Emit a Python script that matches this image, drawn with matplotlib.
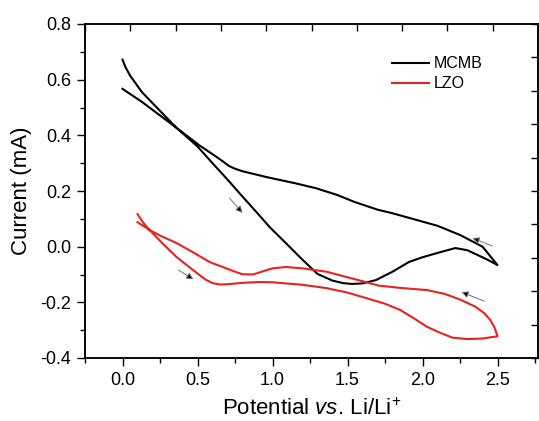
import matplotlib
matplotlib.use("Agg")
import matplotlib.pyplot as plt
from matplotlib.ticker import MultipleLocator

plt.rcParams['font.family'] = ['Liberation Sans', 'DejaVu Sans']
plt.rcParams['mathtext.fontset'] = 'custom'
plt.rcParams['mathtext.rm'] = 'Liberation Sans'
plt.rcParams['mathtext.it'] = 'Liberation Sans:italic'

# MCMB cycle: cathodic sweep (0 -> 2.5 V) and return sweep (2.5 -> 0 V)
mcmb_fwd_v = [0.0, 0.02, 0.05, 0.09, 0.13, 0.25, 0.36, 0.5, 0.6, 0.7, 0.8, 0.9, 0.98, 1.1,
              1.2, 1.3, 1.4, 1.47, 1.53, 1.6, 1.69, 1.8, 1.91, 2.0, 2.13, 2.22, 2.3, 2.36,
              2.43, 2.5]
mcmb_fwd_i = [0.672, 0.645, 0.615, 0.585, 0.555, 0.488, 0.427, 0.36, 0.30, 0.241, 0.18, 0.12,
              0.071, 0.007, -0.047, -0.098, -0.122, -0.131, -0.134, -0.132, -0.12, -0.09,
              -0.055, -0.038, -0.018, -0.005, -0.013, -0.028, -0.046, -0.066]
mcmb_rev_v = [2.5, 2.4, 2.25, 2.1, 1.96, 1.8, 1.7, 1.55, 1.43, 1.29, 1.15, 0.96, 0.8, 0.75,
              0.71, 0.66, 0.62, 0.51, 0.36, 0.13, 0.0]
mcmb_rev_i = [-0.066, 0.0, 0.042, 0.075, 0.096, 0.12, 0.133, 0.16, 0.186, 0.21, 0.228, 0.25,
              0.271, 0.28, 0.29, 0.31, 0.325, 0.365, 0.427, 0.52, 0.567]

# LZO cycle
lzo_fwd_v = [0.1, 0.14, 0.18, 0.27, 0.36, 0.47, 0.55, 0.6, 0.65, 0.7, 0.8, 0.91, 1.0, 1.2,
             1.36, 1.5, 1.62, 1.75, 1.85, 1.95, 2.03, 2.12, 2.2, 2.3, 2.4, 2.5]
lzo_fwd_i = [0.117, 0.085, 0.06, 0.01, -0.037, -0.084, -0.117, -0.131, -0.136, -0.135,
             -0.13, -0.127, -0.128, -0.137, -0.149, -0.165, -0.184, -0.205, -0.227, -0.26,
             -0.288, -0.31, -0.327, -0.332, -0.33, -0.322]
lzo_rev_v = [2.5, 2.48, 2.45, 2.41, 2.35, 2.25, 2.15, 2.03, 1.85, 1.71, 1.66, 1.62, 1.5, 1.36,
             1.2, 1.09, 1.0, 0.94, 0.87, 0.8, 0.76, 0.58, 0.47, 0.36, 0.25, 0.18, 0.1]
lzo_rev_i = [-0.322, -0.29, -0.262, -0.238, -0.215, -0.19, -0.17, -0.156, -0.148, -0.14,
             -0.133, -0.127, -0.11, -0.09, -0.078, -0.073, -0.078, -0.088, -0.1, -0.099,
             -0.092, -0.055, -0.02, 0.013, 0.04, 0.06, 0.088]

# sweep direction arrows: (tail, head) in data units
arrows = [((0.713, 0.175), (0.80, 0.121)),
          ((0.373, -0.084), (0.473, -0.117)),
          ((2.467, 0.002), (2.333, 0.031)),
          ((2.413, -0.196), (2.26, -0.163))]

black = 'black'
red = '#e5231f'

rect = [85 / 539, 1 - 358 / 421, 453 / 539, 334 / 421]
fig = plt.figure(figsize=(5.39, 4.21), dpi=100)
ax = fig.add_axes(rect)

ax.plot(mcmb_fwd_v + mcmb_rev_v, mcmb_fwd_i + mcmb_rev_i, color=black, lw=1.5, label='MCMB')
ax.plot(lzo_fwd_v + lzo_rev_v, lzo_fwd_i + lzo_rev_i, color=red, lw=1.5, label='LZO')

for tail, head in arrows:
    ax.annotate('', xy=head, xytext=tail,
                arrowprops=dict(arrowstyle='-|>', lw=0.7, ec='0.45', fc='black',
                                mutation_scale=10, shrinkA=0, shrinkB=0))

ax.set_xlim(-0.25, 2.77)
ax.set_ylim(-0.4, 0.8)
ax.xaxis.set_major_locator(MultipleLocator(0.5))
ax.xaxis.set_minor_locator(MultipleLocator(0.25))
ax.yaxis.set_major_locator(MultipleLocator(0.2))
ax.yaxis.set_minor_locator(MultipleLocator(0.1))
ax.xaxis.set_major_formatter(lambda v, p: f'{v:.1f}')
ax.yaxis.set_major_formatter(lambda v, p: f'{v:.1f}')
ax.tick_params(which='major', direction='out', length=6, width=1, labelsize=13, pad=4)
ax.tick_params(which='minor', direction='out', length=3.5, width=1)
for s in ax.spines.values():
    s.set_linewidth(1.1)

# plain tick marks on top and right, every tenth of the frame
frame = fig.add_axes(rect)
frame.patch.set_visible(False)
frame.set_xlim(0, 1)
frame.set_ylim(0, 1)
frame.xaxis.set_major_locator(MultipleLocator(0.1))
frame.yaxis.set_major_locator(MultipleLocator(0.1))
frame.tick_params(direction='in', length=5, width=1, left=False, bottom=False,
                  top=True, right=True, labelleft=False, labelbottom=False,
                  labeltop=False, labelright=False)
for s in frame.spines.values():
    s.set_linewidth(1.1)

ax.set_xlabel('Potential $\\mathit{vs.}\\,$Li/Li$^{+}$', fontsize=16, labelpad=7)
ax.set_ylabel('Current (mA)', fontsize=16, labelpad=6)

ax.legend(loc='upper left', bbox_to_anchor=(0.678, 0.903), frameon=False, fontsize=11.5,
          handlelength=2.3, handletextpad=0.3, labelspacing=0.3, borderpad=0, borderaxespad=0)

fig.savefig('out.png', dpi=100)
